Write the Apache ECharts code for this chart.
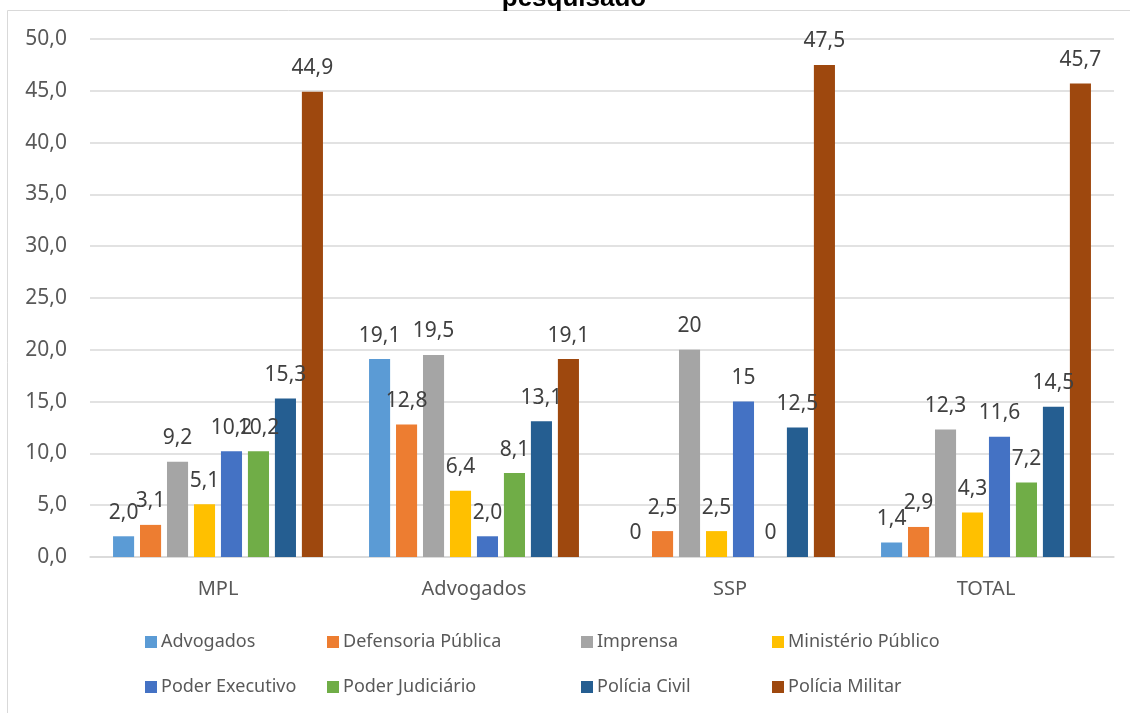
<!DOCTYPE html>
<html>
<head>
<meta charset="utf-8">
<script src="https://cdn.jsdelivr.net/npm/echarts@6/dist/echarts.min.js"></script>
<style>
  html, body { margin: 0; padding: 0; background: #fff; }
  #chart { width: 1130px; height: 713px; }
</style>
</head>
<body>
<div id="chart"></div>
<script>
const categories = ['MPL', 'Advogados', 'SSP', 'TOTAL']
const seriesNames = ['Advogados', 'Defensoria Pública', 'Imprensa', 'Ministério Público', 'Poder Executivo', 'Poder Judiciário', 'Polícia Civil', 'Polícia Militar']
const advogados = [2.0, 19.1, 0, 1.4]
const defensoria = [3.1, 12.8, 2.5, 2.9]
const imprensa = [9.2, 19.5, 20, 12.3]
const ministerio = [5.1, 6.4, 2.5, 4.3]
const executivo = [10.2, 2.0, 15, 11.6]
const judiciario = [10.2, 8.1, 0, 7.2]
const civil = [15.3, 13.1, 12.5, 14.5]
const militar = [44.9, 19.1, 47.5, 45.7]
const yTicks = [0, 5, 10, 15, 20, 25, 30, 35, 40, 45, 50]

const values = [advogados, defensoria, imprensa, ministerio, executivo, judiciario, civil, militar]
const colors = ['#5B9BD5', '#ED7D31', '#A5A5A5', '#FFC000', '#4472C4', '#70AD47', '#255E91', '#9E480E']
const font = '"Noto Sans", "Open Sans", sans-serif'

const chart = echarts.init(document.getElementById('chart'))

// SSP column shows plain numbers, the others one decimal
const fmt = p => {
  const v = p.value
  const s = p.dataIndex === 2 ? String(v) : v.toFixed(1)
  return s.replace('.', ',')
}

const legendCols = [145, 327, 581, 772]
const legends = legendCols.map((x, i) => ({
  orient: 'vertical',
  left: x,
  top: 632,
  itemWidth: 12,
  itemHeight: 12,
  itemGap: 25,
  icon: 'rect',
  padding: 0,
  textStyle: { fontFamily: font, fontSize: 18, color: '#595959', lineHeight: 20, padding: [0, 0, 0, -1] },
  data: [seriesNames[i], seriesNames[i + 4]]
}))

const option = {
  animation: false,
  color: colors,
  title: {
    text: 'pesquisado',
    left: 574,
    textAlign: 'center',
    top: -14,
    padding: 0,
    textStyle: { fontFamily: '"Liberation Sans", Arial, sans-serif', fontSize: 26, fontWeight: 'bold', color: '#000' }
  },
  graphic: [{
    type: 'rect',
    shape: { x: 7.5, y: 10.5, width: 1200, height: 800 },
    style: { fill: 'none', stroke: '#d9d9d9', lineWidth: 1 },
    silent: true
  }],
  legend: legends,
  grid: { left: 90, right: 16, top: 39, bottom: 156 },
  xAxis: {
    type: 'category',
    data: categories,
    axisLine: { lineStyle: { color: '#d9d9d9', width: 1.5 } },
    axisTick: { show: false },
    axisLabel: { fontFamily: font, fontSize: 20, color: '#595959', margin: 22 }
  },
  yAxis: {
    type: 'value',
    min: yTicks[0],
    max: yTicks[yTicks.length - 1],
    interval: 5,
    axisLine: { show: false },
    axisTick: { show: false },
    splitLine: { lineStyle: { color: '#d9d9d9', width: 1.5 } },
    axisLabel: {
      fontFamily: font, fontSize: 21, color: '#595959', margin: 23,
      formatter: v => v.toFixed(1).replace('.', ',')
    }
  },
  series: seriesNames.map((name, i) => ({
    name: name,
    type: 'bar',
    data: values[i],
    barGap: '28%',
    barCategoryGap: '18%',
    label: {
      show: true,
      position: 'top',
      distance: 13,
      fontFamily: font,
      fontSize: 21,
      color: '#404040',
      formatter: fmt
    }
  }))
}

chart.setOption(option)
</script>
</body>
</html>
